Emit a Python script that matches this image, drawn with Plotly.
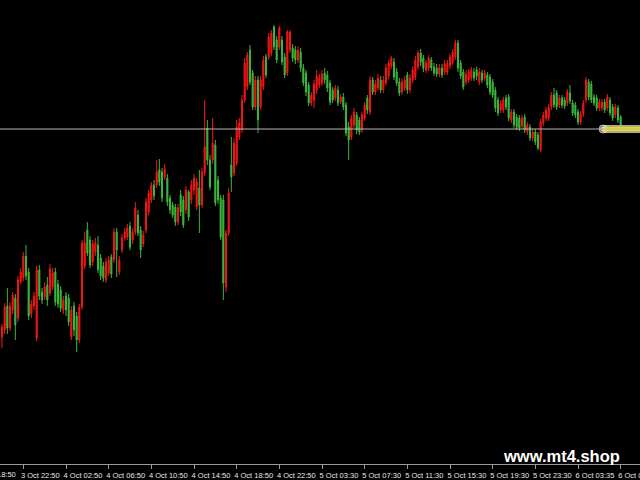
import plotly.graph_objects as go

# OHLC values (one entry per bar)
opens = [1.1663,1.1670,1.1694,1.1672,1.1690,1.1702,1.1682,1.1718,1.1722,1.1744,
1.1728,1.1686,1.1694,1.1662,1.1730,1.1708,1.1703,1.1715,1.1707,1.1713,
1.1728,1.1716,1.1710,1.1690,1.1704,1.1702,1.1663,1.1694,1.1684,1.1660,
1.1693,1.1734,1.1770,1.1760,1.1738,1.1748,1.1755,1.1742,1.1734,1.1720,
1.1727,1.1743,1.1740,1.1768,1.1728,1.1750,1.1762,1.1763,1.1774,1.1760,
1.1768,1.1785,1.1770,1.1756,1.1770,1.1788,1.1800,1.1815,1.1815,1.1830,
1.1828,1.1823,1.1822,1.1802,1.1795,1.1793,1.1778,1.1805,1.1800,1.1790,
1.1808,1.1800,1.1810,1.1793,1.1812,1.1795,1.1827,1.1872,1.1840,1.1840,
1.1855,1.1820,1.1802,1.1800,1.1713,1.1767,1.1835,1.1827,1.1837,1.1863,
1.1870,1.1900,1.1913,1.1950,1.1927,1.1893,1.1920,1.1893,1.1913,1.1943,
1.1943,1.1947,1.1973,1.1960,1.1953,1.1960,1.1943,1.1927,1.1950,1.1952,
1.1950,1.1940,1.1948,1.1932,1.1927,1.1915,1.1897,1.1900,1.1910,1.1915,
1.1917,1.1927,1.1925,1.1917,1.1910,1.1902,1.1910,1.1898,1.1903,1.1895,
1.1873,1.1863,1.1875,1.1885,1.1880,1.1870,1.1882,1.1902,1.1888,1.1920,
1.1908,1.1912,1.1920,1.1910,1.1917,1.1924,1.1934,1.1938,1.1928,1.1918,
1.1908,1.1912,1.1925,1.1910,1.1920,1.1923,1.1933,1.1947,1.1942,1.1930,
1.1932,1.1940,1.1933,1.1932,1.1926,1.1932,1.1928,1.1928,1.1934,1.1938,
1.1943,1.1957,1.1937,1.1928,1.1918,1.1920,1.1922,1.1928,1.1930,1.1918,
1.1927,1.1922,1.1925,1.1923,1.1918,1.1910,1.1900,1.1890,1.1890,1.1902,
1.1903,1.1880,1.1888,1.1883,1.1882,1.1874,1.1883,1.1868,1.1873,1.1862,
1.1868,1.1865,1.1850,1.1877,1.1882,1.1882,1.1893,1.1905,1.1907,1.1895,
1.1902,1.1900,1.1897,1.1907,1.1897,1.1895,1.1888,1.1878,1.1886,1.1900,
1.1918,1.1916,1.1903,1.1902,1.1892,1.1892,1.1898,1.1892,1.1900,1.1893,
1.1885,1.1892,1.1883]
highs = [1.1676,1.1697,1.1712,1.1698,1.1708,1.1706,1.1724,1.1732,1.1748,1.1755,
1.1732,1.1700,1.1708,1.1734,1.1735,1.1712,1.1718,1.1723,1.1736,1.1732,
1.1732,1.1720,1.1714,1.1704,1.1708,1.1706,1.1694,1.1698,1.1688,1.1696,
1.1760,1.1768,1.1778,1.1764,1.1760,1.1762,1.1764,1.1746,1.1738,1.1742,
1.1744,1.1746,1.1772,1.1772,1.1744,1.1766,1.1772,1.1776,1.1778,1.1772,
1.1798,1.1790,1.1774,1.1769,1.1802,1.1810,1.1818,1.1820,1.1840,1.1841,
1.1832,1.1836,1.1826,1.1805,1.1798,1.1796,1.1796,1.1810,1.1804,1.1814,
1.1810,1.1820,1.1826,1.1822,1.1830,1.1832,1.1900,1.1880,1.1845,1.1882,
1.1860,1.1824,1.1805,1.1805,1.1770,1.1812,1.1863,1.1862,1.1880,1.1882,
1.1905,1.1942,1.1948,1.1955,1.1930,1.1924,1.1924,1.1924,1.1944,1.1946,
1.1967,1.1970,1.1975,1.1964,1.1974,1.1964,1.1947,1.1970,1.1970,1.1956,
1.1954,1.1954,1.1952,1.1936,1.1930,1.1918,1.1908,1.1920,1.1930,1.1926,
1.1930,1.1932,1.1929,1.1920,1.1913,1.1915,1.1914,1.1906,1.1907,1.1898,
1.1878,1.1885,1.1892,1.1888,1.1883,1.1888,1.1898,1.1905,1.1924,1.1923,
1.1920,1.1926,1.1924,1.1924,1.1936,1.1940,1.1944,1.1942,1.1932,1.1922,
1.1922,1.1924,1.1928,1.1926,1.1934,1.1944,1.1950,1.1951,1.1945,1.1940,
1.1945,1.1943,1.1937,1.1936,1.1936,1.1936,1.1940,1.1940,1.1946,1.1951,
1.1960,1.1960,1.1940,1.1931,1.1930,1.1931,1.1933,1.1932,1.1933,1.1932,
1.1930,1.1930,1.1928,1.1926,1.1921,1.1913,1.1903,1.1900,1.1903,1.1905,
1.1906,1.1891,1.1891,1.1886,1.1885,1.1885,1.1886,1.1878,1.1876,1.1871,
1.1871,1.1868,1.1881,1.1888,1.1893,1.1896,1.1908,1.1912,1.1910,1.1905,
1.1905,1.1903,1.1911,1.1915,1.1900,1.1898,1.1891,1.1889,1.1900,1.1923,
1.1921,1.1919,1.1906,1.1905,1.1901,1.1901,1.1901,1.1906,1.1903,1.1896,
1.1896,1.1895,1.1885]
lows = [1.1652,1.1666,1.1666,1.1669,1.1686,1.1660,1.1678,1.1716,1.1719,1.1720,
1.1680,1.1682,1.1690,1.1659,1.1700,1.1696,1.1700,1.1694,1.1704,1.1710,
1.1694,1.1692,1.1688,1.1686,1.1684,1.1674,1.1660,1.1664,1.1648,1.1657,
1.1690,1.1731,1.1744,1.1732,1.1734,1.1744,1.1727,1.1720,1.1718,1.1717,
1.1724,1.1722,1.1737,1.1723,1.1725,1.1747,1.1759,1.1760,1.1750,1.1756,
1.1765,1.1764,1.1742,1.1753,1.1767,1.1785,1.1797,1.1800,1.1812,1.1814,
1.1798,1.1820,1.1794,1.1786,1.1782,1.1774,1.1775,1.1784,1.1772,1.1786,
1.1779,1.1796,1.1805,1.1790,1.1767,1.1792,1.1824,1.1835,1.1810,1.1836,
1.1794,1.1796,1.1760,1.1700,1.1708,1.1764,1.1808,1.1824,1.1834,1.1860,
1.1867,1.1897,1.1910,1.1915,1.1890,1.1890,1.1867,1.1890,1.1910,1.1922,
1.1940,1.1944,1.1950,1.1937,1.1950,1.1935,1.1922,1.1924,1.1947,1.1938,
1.1936,1.1937,1.1928,1.1914,1.1904,1.1894,1.1894,1.1892,1.1906,1.1912,
1.1914,1.1916,1.1908,1.1895,1.1897,1.1899,1.1894,1.1896,1.1890,1.1864,
1.1840,1.1860,1.1872,1.1866,1.1865,1.1867,1.1879,1.1886,1.1885,1.1905,
1.1905,1.1909,1.1907,1.1907,1.1914,1.1921,1.1931,1.1920,1.1914,1.1904,
1.1905,1.1909,1.1906,1.1907,1.1917,1.1920,1.1930,1.1934,1.1928,1.1927,
1.1929,1.1929,1.1924,1.1923,1.1923,1.1922,1.1925,1.1925,1.1931,1.1935,
1.1940,1.1928,1.1921,1.1910,1.1915,1.1917,1.1919,1.1919,1.1920,1.1915,
1.1917,1.1919,1.1912,1.1905,1.1902,1.1888,1.1884,1.1887,1.1887,1.1890,
1.1879,1.1877,1.1872,1.1870,1.1869,1.1871,1.1867,1.1865,1.1859,1.1859,
1.1855,1.1850,1.1848,1.1874,1.1879,1.1879,1.1890,1.1892,1.1890,1.1892,
1.1892,1.1891,1.1894,1.1896,1.1884,1.1882,1.1875,1.1875,1.1883,1.1897,
1.1900,1.1897,1.1894,1.1889,1.1889,1.1889,1.1887,1.1889,1.1884,1.1879,
1.1882,1.1877,1.1867]
closes = [1.1673,1.1693,1.1672,1.1694,1.1705,1.1675,1.1720,1.1728,1.1744,1.1724,
1.1684,1.1696,1.1704,1.1730,1.1704,1.1700,1.1713,1.1700,1.1731,1.1727,
1.1698,1.1696,1.1692,1.1700,1.1690,1.1678,1.1690,1.1670,1.1660,1.1693,
1.1757,1.1757,1.1747,1.1735,1.1756,1.1757,1.1730,1.1724,1.1722,1.1738,
1.1740,1.1726,1.1768,1.1750,1.1740,1.1762,1.1768,1.1772,1.1753,1.1768,
1.1792,1.1767,1.1750,1.1765,1.1798,1.1807,1.1815,1.1804,1.1828,1.1818,
1.1802,1.1831,1.1798,1.1790,1.1785,1.1778,1.1792,1.1788,1.1775,1.1810,
1.1783,1.1815,1.1822,1.1818,1.1795,1.1828,1.1853,1.1840,1.1813,1.1857,
1.1797,1.1800,1.1763,1.1717,1.1767,1.1807,1.1823,1.1857,1.1873,1.1877,
1.1900,1.1937,1.1945,1.1918,1.1893,1.1920,1.1880,1.1920,1.1940,1.1925,
1.1963,1.1967,1.1953,1.1940,1.1972,1.1938,1.1925,1.1968,1.1968,1.1942,
1.1940,1.1950,1.1932,1.1917,1.1908,1.1897,1.1905,1.1916,1.1924,1.1922,
1.1926,1.1920,1.1912,1.1898,1.1900,1.1912,1.1897,1.1903,1.1893,1.1867,
1.1860,1.1882,1.1888,1.1870,1.1868,1.1885,1.1895,1.1890,1.1920,1.1908,
1.1916,1.1922,1.1910,1.1920,1.1932,1.1937,1.1942,1.1923,1.1917,1.1907,
1.1918,1.1920,1.1910,1.1922,1.1930,1.1940,1.1947,1.1938,1.1932,1.1937,
1.1942,1.1932,1.1927,1.1926,1.1932,1.1925,1.1936,1.1937,1.1943,1.1948,
1.1957,1.1932,1.1924,1.1913,1.1926,1.1928,1.1930,1.1922,1.1924,1.1928,
1.1920,1.1927,1.1915,1.1908,1.1905,1.1892,1.1887,1.1896,1.1900,1.1893,
1.1882,1.1888,1.1875,1.1873,1.1872,1.1882,1.1870,1.1875,1.1862,1.1868,
1.1858,1.1852,1.1878,1.1885,1.1890,1.1893,1.1905,1.1895,1.1893,1.1902,
1.1895,1.1894,1.1908,1.1899,1.1887,1.1885,1.1878,1.1886,1.1897,1.1920,
1.1903,1.1900,1.1897,1.1892,1.1898,1.1898,1.1890,1.1903,1.1887,1.1882,
1.1893,1.1880,1.1871]

tick_bars = [8, 24, 40, 56, 72, 88, 104, 120, 136, 152, 168, 184, 200, 216, 232]
tick_labels = ["3 Oct 22:50", "4 Oct 02:50", "4 Oct 06:50", "4 Oct 10:50",
               "4 Oct 14:50", "4 Oct 18:50", "4 Oct 22:50", "5 Oct 03:30",
               "5 Oct 07:30", "5 Oct 11:30", "5 Oct 15:30", "5 Oct 19:30",
               "5 Oct 23:30", "6 Oct 03:35", "6 Oct 07:35"]
prev_label_bar = -8
prev_label = "3 Oct 18:50"

bid_price = closes[-1]
marker_start_bar = 225.4

bars = list(range(len(closes)))
x_min, x_max = -0.75, 239.25
y_min, y_max = 1.1536, 1.2000

RED = "#f51515"
GREEN = "#3cb83c"
AXIS = "#9a9a9a"
LABEL_FONT = dict(family="Liberation Sans", size=7.5, color="#e6e6e6")

fig = go.Figure()
fig.add_trace(go.Candlestick(
    x=bars, open=opens, high=highs, low=lows, close=closes,
    increasing=dict(line=dict(color=RED, width=1), fillcolor=RED),
    decreasing=dict(line=dict(color=GREEN, width=1), fillcolor=GREEN),
    whiskerwidth=0, showlegend=False, hoverinfo="skip",
))

# bid line
fig.add_shape(type="line", xref="paper", x0=0, x1=1, yref="y",
              y0=bid_price, y1=bid_price, line=dict(color="#b8b8b8", width=1),
              layer="above")

# highlighted price marker at the right edge
fig.add_trace(go.Scatter(x=[marker_start_bar, x_max + 2], y=[bid_price, bid_price],
                         mode="lines+markers", line=dict(color="#a8a8a8", width=8),
                         marker=dict(size=[8, 0], color="#a8a8a8"),
                         showlegend=False, hoverinfo="skip", cliponaxis=False))
fig.add_trace(go.Scatter(x=[marker_start_bar, x_max + 2], y=[bid_price, bid_price],
                         mode="lines+markers", line=dict(color="#f5dc00", width=4),
                         marker=dict(size=[4, 0], color="#f5dc00"),
                         showlegend=False, hoverinfo="skip", cliponaxis=False))

# partially visible label left of the first tick
fig.add_annotation(
    xref="paper", yref="paper",
    x=(prev_label_bar - x_min) / (x_max - x_min), y=0,
    xanchor="left", yanchor="top", xshift=-6, yshift=-4,
    text=prev_label, showarrow=False, font=LABEL_FONT,
)

fig.add_annotation(
    xref="paper", yref="paper", x=0.878, y=0.017,
    xanchor="center", yanchor="middle",
    text="<b>www.mt4.shop</b>", showarrow=False,
    font=dict(family="Liberation Sans", size=16.5, color="#ffffff"),
)

fig.update_layout(
    width=640, height=480, autosize=False,
    margin=dict(l=0, r=0, t=0, b=16, autoexpand=False),
    paper_bgcolor="#000000", plot_bgcolor="#000000",
    boxgap=0.42,
    xaxis=dict(range=[x_min, x_max], rangeslider=dict(visible=False),
               automargin=False,
               showgrid=False, zeroline=False,
               showline=True, linecolor=AXIS, linewidth=1,
               ticks="outside", ticklen=4, tickcolor=AXIS, tickwidth=1,
               tickvals=tick_bars, ticktext=tick_labels,
               ticklabelshift=17, ticklabelstandoff=0,
               ticklabeloverflow="allow",
               tickfont=LABEL_FONT),
    yaxis=dict(range=[y_min, y_max], automargin=False, showgrid=False, zeroline=False,
               showticklabels=False, showline=False, ticks=""),
    showlegend=False,
)

fig.write_html(
    "out.html",
    config={"displayModeBar": False, "responsive": False},
    post_script="document.body.style.margin='0';document.body.style.padding='0';"
                "document.body.style.background='#000';document.body.style.overflow='hidden';"
                "Plotly.relayout('{plot_id}', {width: 640, height: 480});",
)
